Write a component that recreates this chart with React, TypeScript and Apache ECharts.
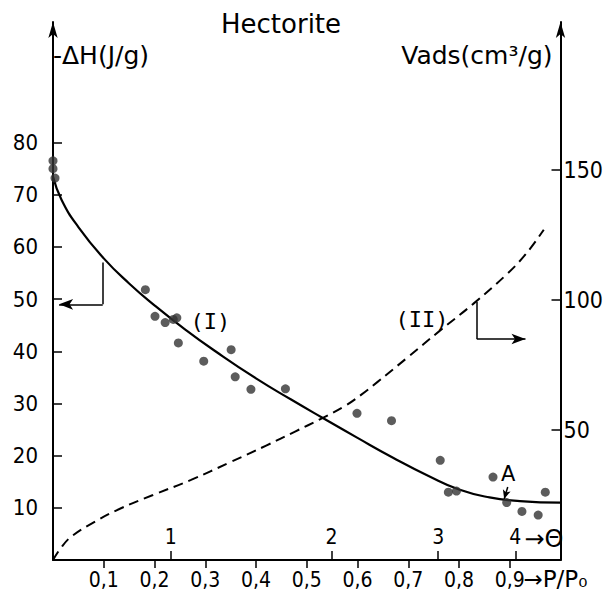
import React, { useEffect, useRef } from "react";
import * as echarts from "echarts";

const NARROW = "'Liberation Sans Narrow', 'DejaVu Sans Condensed', 'Liberation Sans', sans-serif";
const WIDE = "'DejaVu Sans', 'Liberation Sans', sans-serif";
const MONO = "'DejaVu Sans Mono', monospace";

// Axis ticks
const pressureTicks = [0.1, 0.2, 0.3, 0.4, 0.5, 0.6, 0.7, 0.8, 0.9];
const thetaLabels = ["1", "2", "3", "4"];
const thetaPositions = [0.232, 0.549, 0.759, 0.911];
const enthalpyTicks = [10, 20, 30, 40, 50, 60, 70, 80];
const vadsTicks = [50, 100, 150];

// Measured -ΔH (J/g) vs P/P0
const measuredP = [0.0, 0.0, 0.004, 0.182, 0.201, 0.221, 0.237, 0.244, 0.247, 0.297, 0.351, 0.359, 0.39, 0.458, 0.599, 0.667, 0.763, 0.779, 0.795, 0.867, 0.894, 0.924, 0.956, 0.97];
const measuredDH = [76.5, 75.0, 73.2, 51.8, 46.7, 45.5, 46.1, 46.4, 41.6, 38.1, 40.3, 35.1, 32.7, 32.8, 28.1, 26.7, 19.1, 13.0, 13.2, 15.9, 11.0, 9.3, 8.6, 13.0];

// Curve (I): -ΔH fit
const curveIP = [0, 0.017, 0.05, 0.1, 0.15, 0.2, 0.26, 0.32, 0.4, 0.47, 0.53, 0.6, 0.67, 0.74, 0.8, 0.86, 0.92, 1.0];
const curveIDH = [73.5, 69.0, 63.8, 57.8, 53.0, 48.8, 44.2, 40.0, 34.8, 30.7, 27.3, 23.4, 19.6, 16.1, 13.5, 12.0, 11.3, 11.0];

// Curve (II): adsorbed volume (cm3/g)
const curveIIP = [0, 0.015, 0.036, 0.082, 0.134, 0.197, 0.272, 0.348, 0.42, 0.477, 0.526, 0.575, 0.607, 0.639, 0.698, 0.763, 0.828, 0.892, 0.931, 0.967];
const curveIIV = [0, 4.5, 9.0, 14.7, 19.9, 25.0, 30.8, 37.5, 44.0, 49.4, 54.1, 59.2, 63.5, 68.4, 77.8, 88.3, 98.5, 109.5, 117.5, 127.0];

export default function App() {
  const ref = useRef<HTMLDivElement>(null);

  useEffect(() => {
    document.body.style.margin = "0";
    const chart = echarts.init(ref.current!, null, { renderer: "svg" });

    const black = "#000";
    const lineW = 2;

    const option: any = {
      animation: false,
      backgroundColor: "#fff",
      title: {
        text: "Hectorite",
        left: 216,
        top: 6,
        textStyle: { fontFamily: WIDE, fontSize: 26, fontWeight: "normal", color: black },
      },
      grid: { left: 53, right: 38, top: 22, bottom: 34 },
      xAxis: [
        {
          type: "value",
          min: 0,
          max: 1,
          position: "bottom",
          axisLine: { show: true, onZero: false, lineStyle: { color: black, width: lineW } },
          axisTick: { show: true, customValues: pressureTicks, length: 8, lineStyle: { color: black, width: 1.5 } },
          axisLabel: {
            customValues: pressureTicks,
            formatter: (v: number) => v.toFixed(1).replace(".", ","),
            color: black,
            fontFamily: NARROW,
            fontSize: 21,
            margin: 9,
          },
          splitLine: { show: false },
        },
        {
          type: "value",
          min: 0,
          max: 1,
          position: "bottom",
          axisLine: { show: false, onZero: false },
          axisTick: { show: true, inside: true, customValues: thetaPositions, length: 9, lineStyle: { color: black, width: 1.5 } },
          axisLabel: {
            inside: true,
            customValues: thetaPositions,
            formatter: (v: number) => {
              const i = thetaPositions.findIndex((p) => Math.abs(p - v) < 1e-6);
              return i >= 0 ? thetaLabels[i] : "";
            },
            color: black,
            fontFamily: NARROW,
            fontSize: 21,
            margin: 13,
          },
          splitLine: { show: false },
        },
      ],
      yAxis: [
        {
          type: "value",
          min: 0,
          max: 103.1,
          position: "left",
          name: "-ΔH(J/g)",
          nameLocation: "end",
          nameGap: -33,
          nameTextStyle: { align: "left", verticalAlign: "middle", fontFamily: WIDE, fontSize: 25, color: black, padding: [0, 0, 0, 0] },
          axisLine: { show: true, onZero: false, symbol: ["none", "arrow"], symbolSize: [7, 16], lineStyle: { color: black, width: lineW } },
          axisTick: { show: true, inside: true, customValues: enthalpyTicks, length: 9, lineStyle: { color: black, width: 1.5 } },
          axisLabel: { customValues: enthalpyTicks, color: black, fontFamily: NARROW, fontSize: 22, margin: 15 },
          splitLine: { show: false },
        },
        {
          type: "value",
          min: 0,
          max: 206.9,
          position: "right",
          name: "Vads(cm³/g)",
          nameLocation: "end",
          nameGap: -33,
          nameTextStyle: { align: "right", verticalAlign: "middle", fontFamily: WIDE, fontSize: 25, color: black, padding: [0, 8, 0, 0] },
          axisLine: { show: true, onZero: false, symbol: ["none", "arrow"], symbolSize: [7, 16], lineStyle: { color: black, width: lineW } },
          axisTick: { show: true, inside: true, customValues: vadsTicks, length: 9, lineStyle: { color: black, width: 1.5 } },
          axisLabel: { customValues: vadsTicks, color: black, fontFamily: NARROW, fontSize: 23, margin: 3 },
          splitLine: { show: false },
        },
      ],
      series: [
        {
          name: "ΔH measured",
          type: "scatter",
          xAxisIndex: 0,
          yAxisIndex: 0,
          symbol: "circle",
          symbolSize: 9,
          itemStyle: { color: "#333" },
          data: measuredP.map((p, i) => [p, measuredDH[i]]),
          z: 3,
        },
        {
          name: "(I)",
          type: "line",
          xAxisIndex: 0,
          yAxisIndex: 0,
          smooth: 0.5,
          showSymbol: false,
          lineStyle: { color: black, width: 2.2 },
          data: curveIP.map((p, i) => [p, curveIDH[i]]),
          markLine: {
            silent: true,
            symbol: ["none", "none"],
            label: { show: false },
            lineStyle: { color: black, width: 1.5, type: "solid" },
            data: [
              [{ coord: [0.098, 57] }, { coord: [0.098, 49] }],
              [{ coord: [0.098, 49] }, { coord: [0.012, 49], symbol: "arrow", symbolSize: [8, 14] }],
              [{ coord: [0.896, 14.0] }, { coord: [0.889, 11.7], symbol: "arrow", symbolSize: [6, 9] }],
            ],
          },
        },
        {
          name: "(II)",
          type: "line",
          xAxisIndex: 0,
          yAxisIndex: 1,
          smooth: 0.4,
          showSymbol: false,
          lineStyle: { color: black, width: 2, type: [10, 6] },
          data: curveIIP.map((p, i) => [p, curveIIV[i]]),
          markLine: {
            silent: true,
            symbol: ["none", "none"],
            label: { show: false },
            lineStyle: { color: black, width: 1.5, type: "solid" },
            data: [
              [{ coord: [0.835, 99.2] }, { coord: [0.835, 85] }],
              [{ coord: [0.835, 85] }, { coord: [0.931, 85], symbol: "arrow", symbolSize: [8, 14] }],
            ],
          },
        },
      ],
    };

    chart.setOption(option);

    const at = (p: number, v: number, yi: number) =>
      chart.convertToPixel({ xAxisIndex: 0, yAxisIndex: yi }, [p, v]) as number[];
    const lblI = at(0.31, 45.7, 0);
    const lblII = at(0.727, 92.3, 1);
    const lblA = at(0.897, 16.4, 0);
    const lblTheta = at(0.925, 0, 0);
    const lblP = at(0.925, 0, 0);

    chart.setOption({
      graphic: [
        { type: "text", x: lblI[0], y: lblI[1], style: { text: "(I)", fontFamily: MONO, fontSize: 22, fill: black, align: "center", verticalAlign: "middle" } },
        { type: "text", x: lblII[0], y: lblII[1], style: { text: "(II)", fontFamily: MONO, fontSize: 22, fill: black, align: "center", verticalAlign: "middle" } },
        { type: "text", x: lblA[0], y: lblA[1], style: { text: "A", fontFamily: WIDE, fontSize: 21, fill: black, align: "center", verticalAlign: "middle" } },
        { type: "text", x: lblTheta[0] + 2, y: lblTheta[1] - 21, style: { text: "→Θ", fontFamily: WIDE, fontSize: 24, fill: black, align: "left", verticalAlign: "middle" } },
        { type: "text", x: lblP[0] + 1, y: lblP[1] + 19, style: { text: "→P/P₀", fontFamily: WIDE, fontSize: 23, fill: black, align: "left", verticalAlign: "middle" } },
      ],
    });

    return () => chart.dispose();
  }, []);

  return <div ref={ref} style={{ width: 606, height: 594 }} />;
}
